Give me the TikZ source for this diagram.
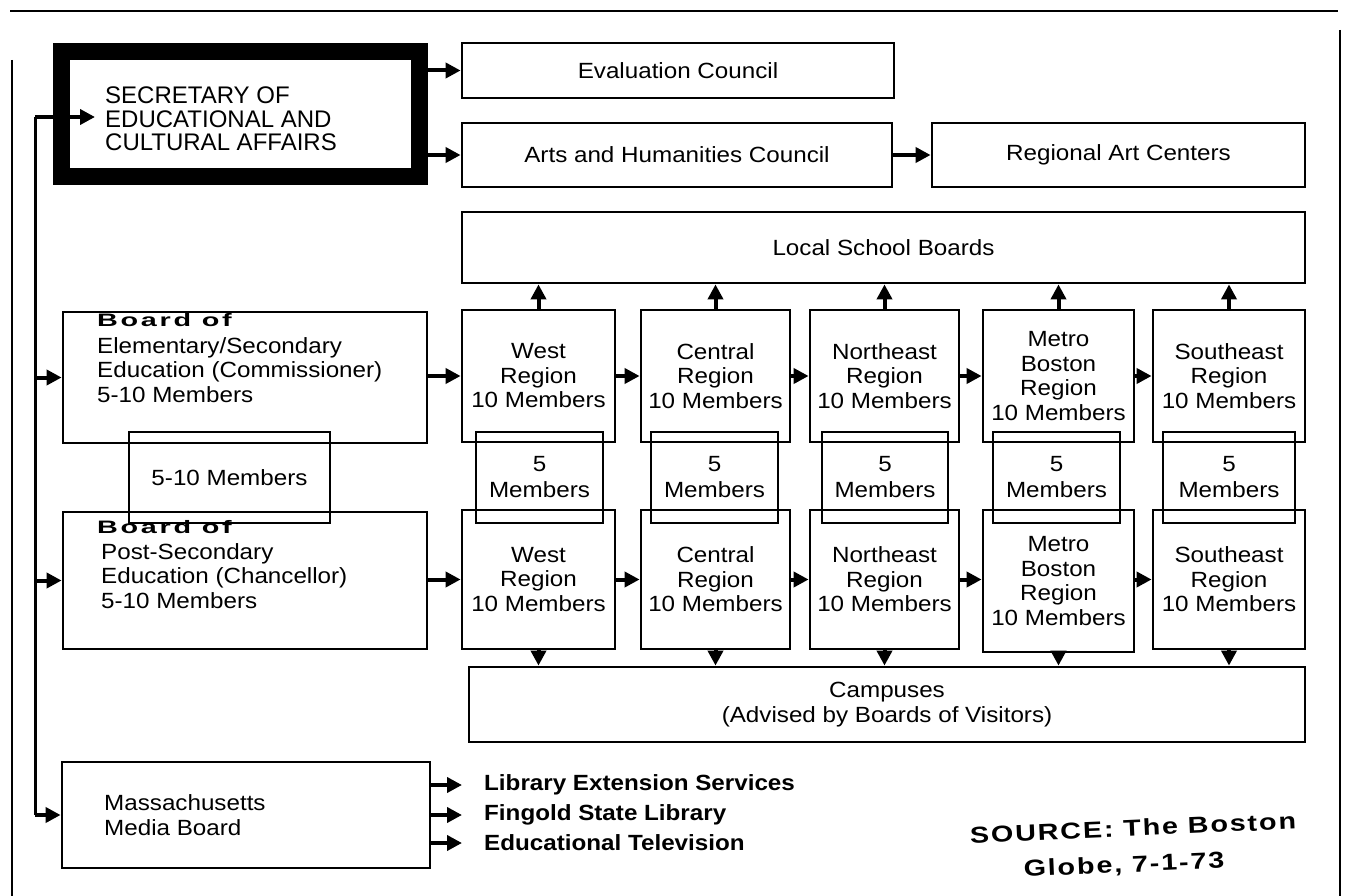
\documentclass[tikz,border=0pt]{standalone}
\usepackage{fontspec}
\setmainfont{Liberation Sans}
\newfontfamily\wfont{Liberation Sans}[FakeStretch=1.1]
\newfontfamily\handfont{Liberation Sans}[FakeStretch=1.6,LetterSpace=15]
\newfontfamily\srcfont{Liberation Sans}[FakeStretch=1.25,LetterSpace=8]
\usetikzlibrary{arrows.meta}
\begin{document}
\begin{tikzpicture}[x=1pt,y=-1pt,
  box/.style={draw,line width=2.8pt,inner sep=0pt,align=center,font=\wfont\fontsize{22}{24.5}\selectfont},
  txt/.style={inner sep=0pt,align=left,font=\wfont\fontsize{22}{24.5}\selectfont},
  hand/.style={inner sep=0pt,anchor=west,font=\handfont\bfseries\fontsize{18}{20}\selectfont},
  src/.style={inner sep=0pt,rotate=2.5,font=\srcfont\bfseries\fontsize{23}{26}\selectfont},
  arr/.style={line width=4pt,-{Triangle[length=15pt,width=15pt]}},
  borderline/.style={line width=2.8pt}]
\useasboundingbox (0,0) rectangle (1350,896);
% outer frame
\draw[borderline] (10,11) -- (1338,11);
\draw[borderline] (12,60) -- (12,896);
\draw[borderline] (1340,30) -- (1340,896);

% secretary
\node[draw,line width=17pt,minimum width=358pt,minimum height=125pt,inner sep=0pt] (sec) at (240.5,114) {};
\node[inner sep=0pt,anchor=west,align=left,font=\fontsize{24}{23.5}\selectfont] (sect) at (105,119) {SECRETARY OF\\EDUCATIONAL AND\\CULTURAL AFFAIRS};

% councils
\node[box,minimum width=432pt,minimum height=55pt] (ev) at (678,70.5) {Evaluation Council};
\node[box,minimum width=430pt,minimum height=64pt] (arts) at (677,155) {Arts and Humanities Council};
\node[box,minimum width=373pt,minimum height=64pt] (rac) at (1118.5,155) {Regional Art Centers};
\node[box,minimum width=843pt,minimum height=71pt] (lsb) at (883.5,247.5) {Local School Boards};

% boards
\node[box,minimum width=364pt,minimum height=131pt] (be) at (245,377.5) {};
\node[hand] (bet) at (97,320) {Board of};
\node[txt,anchor=west] (bett) at (97,370) {Elementary/Secondary\\Education (Commissioner)\\5-10 Members};
\node[box,minimum width=364pt,minimum height=137pt] (bp) at (245,580.5) {};
\node[hand] (bpt) at (97,527) {Board of};
\node[txt,anchor=west] (bptt) at (101,576) {Post-Secondary\\Education (Chancellor)\\5-10 Members};
\node[box,minimum width=201pt,minimum height=91pt] (mid) at (229.5,477.5) {5-10 Members};

% row 1 regions
\node[box,minimum width=153pt,minimum height=132pt] (w1) at (538.5,376) {West\\Region\\10 Members};
\node[box,minimum width=149pt,minimum height=132pt] (c1) at (715.5,376) {Central\\Region\\10 Members};
\node[box,minimum width=149pt,minimum height=132pt] (n1) at (884.5,376) {Northeast\\Region\\10 Members};
\node[box,minimum width=151pt,minimum height=132pt] (m1) at (1058.5,376) {Metro\\Boston\\Region\\10 Members};
\node[box,minimum width=152pt,minimum height=132pt] (s1) at (1229,376) {Southeast\\Region\\10 Members};

% row 2 regions
\node[box,minimum width=153pt,minimum height=139pt] (w2) at (538.5,579.5) {West\\Region\\10 Members};
\node[box,minimum width=149pt,minimum height=139pt] (c2) at (715.5,579.5) {Central\\Region\\10 Members};
\node[box,minimum width=149pt,minimum height=139pt] (n2) at (884.5,579.5) {Northeast\\Region\\10 Members};
\node[box,minimum width=151pt,minimum height=142pt] (m2) at (1058.5,581) {Metro\\Boston\\Region\\10 Members};
\node[box,minimum width=152pt,minimum height=139pt] (s2) at (1229,579.5) {Southeast\\Region\\10 Members};

% 5 member boxes
\node[box,minimum width=127pt,minimum height=91pt,font=\wfont\fontsize{22}{26}\selectfont] (f1) at (539.5,477.5) {5\\Members};
\node[box,minimum width=127pt,minimum height=91pt,font=\wfont\fontsize{22}{26}\selectfont] (f2) at (714.5,477.5) {5\\Members};
\node[box,minimum width=126pt,minimum height=91pt,font=\wfont\fontsize{22}{26}\selectfont] (f3) at (885,477.5) {5\\Members};
\node[box,minimum width=127pt,minimum height=91pt,font=\wfont\fontsize{22}{26}\selectfont] (f4) at (1056.5,477.5) {5\\Members};
\node[box,minimum width=132pt,minimum height=91pt,font=\wfont\fontsize{22}{26}\selectfont] (f5) at (1229,477.5) {5\\Members};

% campuses
\node[box,minimum width=836pt,minimum height=75pt] (camp) at (887,704.5) {Campuses\\(Advised by Boards of Visitors)};

% media
\node[box,minimum width=368pt,minimum height=106pt] (media) at (246,815) {};
\node[txt,anchor=west] (mediat) at (104,815) {Massachusetts\\Media Board};
\node[txt,anchor=west,font=\wfont\bfseries\fontsize{22}{24.5}\selectfont] (les) at (484,785) {Library Extension Services};
\node[txt,anchor=west,font=\wfont\bfseries\fontsize{22}{24.5}\selectfont] (fsl) at (484,815) {Fingold State Library};
\node[txt,anchor=west,font=\wfont\bfseries\fontsize{22}{24.5}\selectfont] (etv) at (484,843) {Educational Television};

% source
\node[src] (src1) at (1133,828) {SOURCE: The Boston};
\node[src] (src2) at (1124,866) {Globe, 7-1-73};

% bus
\coordinate (bt) at (35,117);
\coordinate (bb) at (35,815);
\coordinate (secin) at (95,117);
\draw[line width=3pt] (bt) -- (bb);
\draw[arr] (bt) -- (secin);
\draw[arr] (bt |- be.west) -- (be.west);
\draw[arr] (bt |- bp.west) -- (bp.west);
\draw[arr] (bb) -- (media.west);

% secretary arrows
\draw[arr] (sec.east |- ev.west) -- (ev.west);
\draw[arr] (sec.east |- arts.west) -- (arts.west);
\draw[arr] (arts.east) -- (rac.west);

% row arrows
\draw[arr] (be.east |- w1.west) -- (w1.west);
\draw[arr] (w1.east) -- (c1.west);
\draw[arr] (c1.east) -- (n1.west);
\draw[arr] (n1.east) -- (m1.west);
\draw[arr] (m1.east) -- (s1.west);
\draw[arr] (bp.east |- w2.west) -- (w2.west);
\draw[arr] (w2.east) -- (c2.west);
\draw[arr] (c2.east) -- (n2.west);
\draw[arr] (n2.east |- c2.east) -- (m2.west |- c2.east);
\draw[arr] (m2.east |- c2.east) -- (s2.west);

% up arrows
\foreach \n in {w1,c1,n1,m1,s1}{\draw[arr] (\n.north) -- (\n.north |- lsb.south);}
% down arrows
\foreach \n in {w2,c2,n2,m2,s2}{\draw[arr] (\n.south) -- (\n.south |- camp.north);}

% media arrows
\draw[arr] (media.east |- les.west) -- ([xshift=-22pt]les.west);
\draw[arr] (media.east |- fsl.west) -- ([xshift=-22pt]fsl.west);
\draw[arr] (media.east |- etv.west) -- ([xshift=-22pt]etv.west);
\end{tikzpicture}
\end{document}
